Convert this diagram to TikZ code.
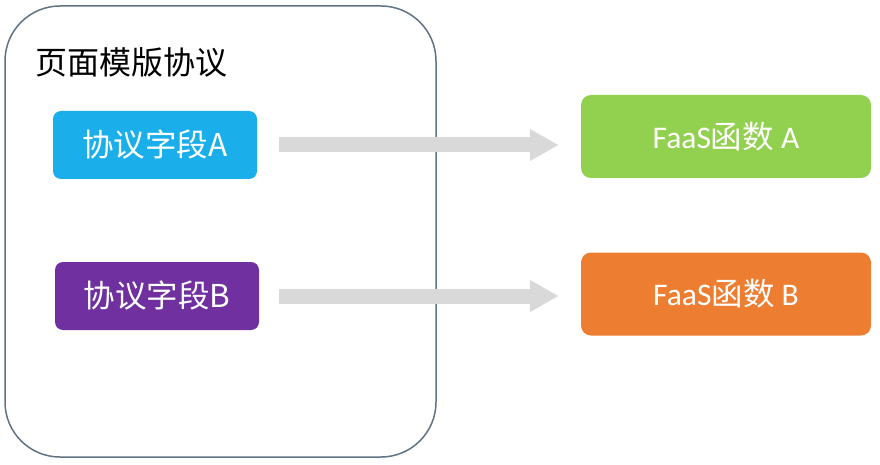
\documentclass[tikz,border=0pt]{standalone}
\usepackage{fontspec}
\setmainfont{Carlito}
\newfontfamily\cjk{Noto Sans CJK SC}
\usetikzlibrary{arrows.meta,positioning}
\definecolor{boxblue}{HTML}{1AAEEA}
\definecolor{boxpurple}{HTML}{7030A0}
\definecolor{boxgreen}{HTML}{92D050}
\definecolor{boxorange}{HTML}{ED7D31}
\definecolor{frame}{HTML}{5F7384}
\definecolor{arrowgray}{HTML}{D9D9D9}
\begin{document}
\begin{tikzpicture}[x=1pt,y=-1pt,
  field/.style={rounded corners=8pt,text=white,font=\cjk\fontsize{31.5}{34}\selectfont,
    minimum width=204pt,minimum height=68pt,inner sep=0pt},
  func/.style={rounded corners=10pt,text=white,font=\fontsize{31.5}{34}\selectfont,
    minimum width=290pt,minimum height=83pt,inner sep=0pt},
  flow/.style={arrowgray,line width=15pt,-{Triangle[length=29pt,width=30pt]},
    shorten >=22pt}]
\useasboundingbox (0,0) rectangle (880,465);
\node[draw=frame,line width=1.5pt,rounded corners=55pt,minimum width=431pt,minimum height=451pt,inner sep=0pt] (tpl) at (220.5,231.5) {};
\node[anchor=west,font=\cjk\fontsize{32}{36}\selectfont,inner sep=0pt] (title) at (35,62) {页面模版协议};
\node[field,fill=boxblue] (fa) at (155,145) {协议字段A};
\node[field,fill=boxpurple] (fb) at (157,296) {协议字段B};
\node[func,fill=boxgreen] (ga) at (726,136.5) {FaaS{\cjk 函数} A};
\node[func,fill=boxorange] (gb) at (726,294) {FaaS{\cjk 函数} B};
\draw[flow,shorten <=22pt] (fa.east) -- (fa.east -| ga.west);
\draw[flow,shorten <=20pt] (fb.east) -- (fb.east -| gb.west);
\end{tikzpicture}
\end{document}
